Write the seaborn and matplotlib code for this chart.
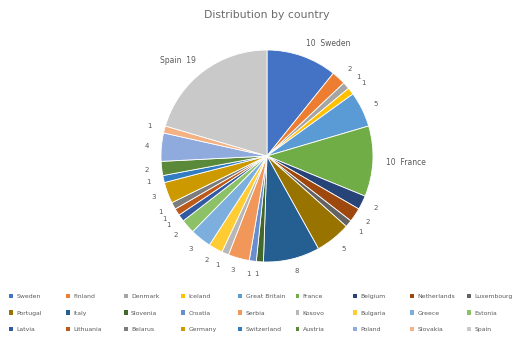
import matplotlib
matplotlib.use("Agg")
import matplotlib.pyplot as plt
from matplotlib.patches import Patch
import seaborn as sns
import pandas as pd
import numpy as np

countries = ["Sweden", "Finland", "Denmark", "Iceland", "Great Britain", "France",
             "Belgium", "Netherlands", "Luxembourg",
             "Portugal", "Italy", "Slovenia", "Croatia", "Serbia", "Kosovo",
             "Bulgaria", "Greece", "Estonia",
             "Latvia", "Lithuania", "Belarus", "Germany", "Switzerland", "Austria",
             "Poland", "Slovakia", "Spain"]
counts = [10, 2, 1, 1, 5, 10,
          2, 2, 1,
          5, 8, 1, 1, 3, 1,
          2, 3, 2,
          1, 1, 1, 3, 1, 2,
          4, 1, 19]

palette = ["#4472C4", "#ED7D31", "#A5A5A5", "#FFC000", "#5B9BD5", "#70AD47",
           "#264478", "#9E480E", "#636363", "#997300", "#255E91", "#43682B",
           "#698ED0", "#F1975A", "#B7B7B7", "#FFCD33", "#7CAFDD", "#8CC168",
           "#335AA1", "#BC5A1C", "#7C7C7C", "#CC9A00", "#327DC2", "#5A8A39",
           "#8FAADC", "#F4B183", "#C9C9C9"]

df = pd.DataFrame({"country": countries, "count": counts})

sns.set_theme(style="white")
plt.rcParams["font.family"] = ["DejaVu Sans"]

fig = plt.figure(figsize=(5.13, 3.40), dpi=100)
W, H = 513, 340
cx, cy, R = 267, 156, 106
half = 1.35 * R
ax = fig.add_axes([(cx - half) / W, (H - cy - half) / H, 2 * half / W, 2 * half / H])

wedges, _ = ax.pie(df["count"], colors=palette, startangle=90, counterclock=False,
                   radius=1.0, wedgeprops=dict(edgecolor="white", linewidth=0.6))
ax.set_xlim(-1.35, 1.35)
ax.set_ylim(-1.35, 1.35)
ax.set_aspect("equal")
ax.axis("off")

total = df["count"].sum()
cum = 0
for name, v in zip(df["country"], df["count"]):
    mid = (cum + v / 2) / total * 360.0
    cum += v
    th = np.deg2rad(mid)
    r = 1.12
    x, y = r * np.sin(th), r * np.cos(th)
    ha = "left" if np.sin(th) >= 0 else "right"
    if v >= 10:
        txt = f"{v}  {name}" if ha == "left" else f"{name}  {v}"
        fs = 5.5
    else:
        txt = f"{v}"
        fs = 5
    ax.text(x, y, txt, ha=ha, va="center", fontsize=fs, color="#595959")

fig.text(cx / W, 1 - 15 / H, "Distribution by country", ha="center", va="center",
         fontsize=7.8, color="#6b6b6b")

handles = [Patch(facecolor=w.get_facecolor(), edgecolor="none") for w in wedges]
ncol, nrow = 9, 3
for c in range(ncol):
    idx = [r * ncol + c for r in range(nrow)]
    fig.legend([handles[i] for i in idx], [countries[i] for i in idx],
               loc="upper left", bbox_to_anchor=((9 + 57.3 * c) / W, 1 - 294 / H),
               frameon=False, fontsize=4.4, handlelength=0.65, handleheight=0.65,
               handletextpad=0.55, labelspacing=1.85, borderpad=0.0,
               borderaxespad=0.0, labelcolor="#595959")

fig.savefig("out.png", dpi=100, facecolor="white")
